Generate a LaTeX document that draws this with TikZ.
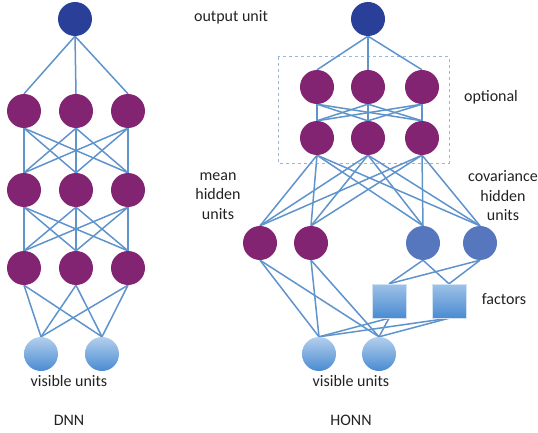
\documentclass[tikz,border=0pt]{standalone}
\usepackage{fontspec}
\setmainfont{Carlito}
\usetikzlibrary{backgrounds}
\definecolor{purp}{HTML}{832473}
\definecolor{outb}{HTML}{2A3F98}
\definecolor{covb}{HTML}{5677BE}
\definecolor{edge}{HTML}{5F93CC}
\definecolor{dash}{HTML}{94B8E0}
\definecolor{visT}{HTML}{B3CFEC}
\definecolor{visB}{HTML}{4A8BD2}
\definecolor{txt}{HTML}{222222}
\begin{document}
\begin{tikzpicture}[x=1pt,y=-1pt,
  unit/.style={circle,minimum size=34pt,inner sep=0pt},
  hid/.style={unit,fill=purp},
  outu/.style={unit,fill=outb},
  cov/.style={unit,fill=covb},
  vis/.style={unit,top color=visT,bottom color=visB},
  fac/.style={rectangle,minimum size=34pt,inner sep=0pt,top color=visT!80!visB,bottom color=visB,draw=visT!60!white,line width=0.4pt},
  lab/.style={font=\fontsize{16}{19.5}\selectfont,text=txt,align=center},
  conn/.style={draw=edge,line width=1.5pt}]
\useasboundingbox (0,0) rectangle (538,433);
% DNN
\node[outu] (do) at (75,19) {};
\foreach \x [count=\i] in {24,76,128}{
  \node[hid] (da\i) at (\x,111) {};
  \node[hid] (db\i) at (\x,190) {};
  \node[hid] (dc\i) at (\x,268) {};
}
\node[vis] (dv1) at (41,354) {};
\node[vis] (dv2) at (102,354) {};
\node[lab] (dvl) at (69,381) {visible units};
\node[lab] (dnn) at (69,420) {DNN};
% HONN
\node[outu] (ho) at (368,19) {};
\foreach \x [count=\i] in {317,368,422}{
  \node[hid] (ha\i) at (\x,87) {};
  \node[hid] (hb\i) at (\x,138) {};
}
\node[hid] (m1) at (260,243) {};
\node[hid] (m2) at (311,243) {};
\node[cov] (c1) at (423,243) {};
\node[cov] (c2) at (480,243) {};
\node[fac] (f1) at (389,301) {};
\node[fac] (f2) at (449,301) {};
\node[vis] (hv1) at (319,354) {};
\node[vis] (hv2) at (379,354) {};
\node[lab] (hvl) at (351,381) {visible units};
\node[lab] (honn) at (351,420) {HONN};
\node[lab] (outl) at (231,17) {output unit};
\node[lab] (optl) at (491,97) {optional};
\node[lab] (meanl) at (218,196) {mean\\hidden\\units};
\node[lab] (covl) at (503,196) {covariance\\hidden\\units};
\node[lab] (facl) at (504,299) {factors};
\begin{scope}[on background layer]
\draw[dashed,draw=dash,line width=1pt] (278,57) rectangle (449,163);
\foreach \i in {1,2,3}{
  \draw[conn] (do.south) -- (da\i.north);
  \draw[conn] (ho.south) -- (ha\i.north);
  \foreach \j in {1,2,3}{
    \draw[conn] (da\i.south) -- (db\j.north);
    \draw[conn] (db\i.south) -- (dc\j.north);
    \draw[conn] (ha\i.south) -- (hb\j.north);
  }
  \foreach \t in {m1,m2,c1,c2}{
    \draw[conn] (hb\i.south) -- (\t.north);
  }
  \foreach \j in {1,2}{
    \draw[conn] (dc\i.south) -- (dv\j.north);
  }
}
\foreach \s in {m1,m2,f1,f2}{
  \foreach \j in {1,2}{
    \draw[conn] (\s.south) -- (hv\j.north);
  }
}
\foreach \s in {c1,c2}{
  \foreach \j in {1,2}{
    \draw[conn] (\s.south) -- (f\j.north);
  }
}
\end{scope}
\end{tikzpicture}
\end{document}
